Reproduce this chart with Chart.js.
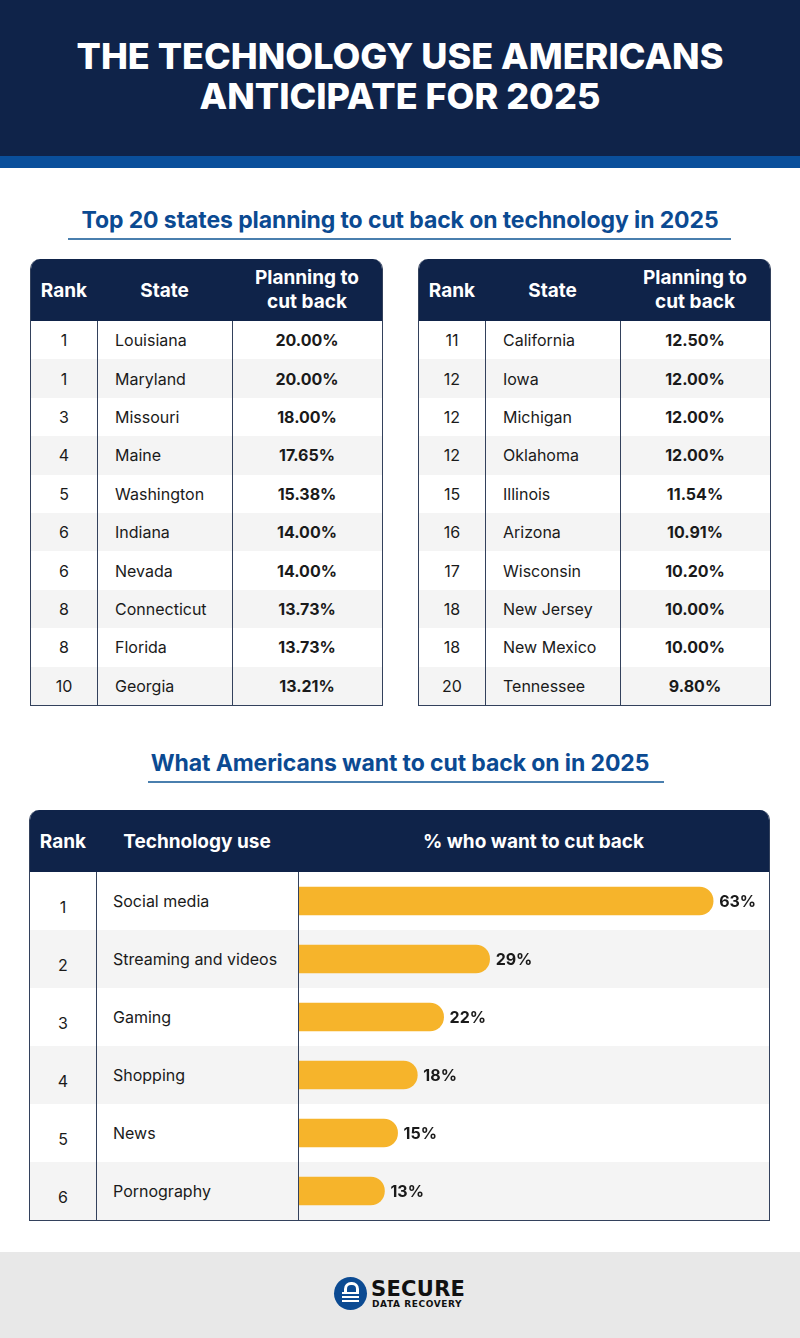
<!DOCTYPE html>
<html>
<head>
<meta charset="utf-8">
<script src="https://cdn.jsdelivr.net/npm/chart.js@4"></script>
<style>
  html, body { margin: 0; padding: 0; }
  body { width: 800px; height: 1338px; position: relative; background: #fff; font-family: Inter, "Open Sans", sans-serif; color: #1a1a1a; overflow: hidden; }
  .hdr { position: absolute; left: 0; top: 0; width: 800px; height: 156px; background: #0f2349; }
  .stripe { position: absolute; left: 0; top: 156px; width: 800px; height: 12px; background: #0a4f9b; }
  .title { position: absolute; left: 0; top: 36px; width: 800px; text-align: center; color: #fff; font-weight: 800; font-size: 36px; line-height: 40px; letter-spacing: 0; }
  .sub { position: absolute; left: 0; width: 800px; text-align: center; color: #0b4a92; font-weight: 700; font-size: 23px; letter-spacing: -0.1px; }
  .uline { position: absolute; height: 2px; background: #4a7fae; }
  .tbl { position: absolute; border: 1px solid #33415c; border-top: none; border-radius: 10px 10px 0 0; overflow: hidden; }
  .thead { position: absolute; left: 0; top: 0; background: #0f2349; color: #fff; font-weight: 700; font-size: 19px; }
  .cell { position: absolute; display: flex; align-items: center; box-sizing: border-box; }
  .row { position: absolute; left: 0; }
  .vline { position: absolute; width: 1px; background: #33415c; }
  .footer { position: absolute; left: 0; top: 1252px; width: 800px; height: 86px; background: #e8e8e8; }
</style>
</head>
<body>
<div class="hdr"></div>
<div class="stripe"></div>
<div class="title">THE TECHNOLOGY USE AMERICANS<br>ANTICIPATE FOR 2025</div>

<div class="sub" style="top:206px">Top 20 states planning to cut back on technology in 2025</div>
<div class="uline" style="left:68px; top:238px; width:663px"></div>

<div id="t1" class="tbl" style="left:30px; top:259px; width:351px; height:446px"></div>
<div id="t2" class="tbl" style="left:418px; top:259px; width:351px; height:446px"></div>

<div class="sub" style="top:749px">What Americans want to cut back on in 2025</div>
<div class="uline" style="left:148px; top:781px; width:516px"></div>

<div id="t3" class="tbl" style="left:29px; top:810px; width:739px; height:410px"></div>

<div class="footer"></div>
<div style="position:absolute; left:334px; top:1277px; width:33px; height:33px; border-radius:50%; background:#0b4a92;">
  <div style="position:absolute; left:10px; top:5px; width:9px; height:9px; border:3px solid #fff; border-bottom:none; border-radius:7px 7px 0 0;"></div>
  <div style="position:absolute; left:8px; top:15px; width:17px; height:2px; background:#fff;"></div>
  <div style="position:absolute; left:8px; top:19px; width:17px; height:2px; background:#fff;"></div>
  <div style="position:absolute; left:8px; top:23px; width:17px; height:2px; background:#fff;"></div>
</div>
<div style="position:absolute; left:371px; top:1279px; font-family:'DejaVu Sans'; font-weight:900; font-size:21px; line-height:20px; color:#111; letter-spacing:0.3px;">SECURE</div>
<div style="position:absolute; left:372px; top:1299px; font-family:'DejaVu Sans'; font-weight:700; font-size:9px; line-height:10px; color:#111; letter-spacing:0.6px;">DATA RECOVERY</div>

<script>
// Top 20 states
const ranksA = ["1", "1", "3", "4", "5", "6", "6", "8", "8", "10"];
const statesA = ["Louisiana", "Maryland", "Missouri", "Maine", "Washington", "Indiana", "Nevada", "Connecticut", "Florida", "Georgia"];
const valuesA = ["20.00%", "20.00%", "18.00%", "17.65%", "15.38%", "14.00%", "14.00%", "13.73%", "13.73%", "13.21%"];

const ranksB = ["11", "12", "12", "12", "15", "16", "17", "18", "18", "20"];
const statesB = ["California", "Iowa", "Michigan", "Oklahoma", "Illinois", "Arizona", "Wisconsin", "New Jersey", "New Mexico", "Tennessee"];
const valuesB = ["12.50%", "12.00%", "12.00%", "12.00%", "11.54%", "10.91%", "10.20%", "10.00%", "10.00%", "9.80%"];

// Technology use
const techRanks = ["1", "2", "3", "4", "5", "6"];
const techUses = ["Social media", "Streaming and videos", "Gaming", "Shopping", "News", "Pornography"];
const techPct = [63, 29, 22, 18, 15, 13];

function cell(parent, x, y, w, h, text, opts) {
  const d = document.createElement("div");
  d.className = "cell";
  d.style.left = x + "px"; d.style.top = y + "px";
  d.style.width = w + "px"; d.style.height = h + "px";
  d.style.justifyContent = opts.align || "center";
  if (opts.pad) d.style.paddingLeft = opts.pad + "px";
  if (opts.bold) d.style.fontWeight = "700";
  d.style.fontSize = (opts.size || 16) + "px";
  if (opts.lh) { d.style.lineHeight = opts.lh + "px"; d.style.textAlign = "center"; }
  d.innerHTML = text;
  parent.appendChild(d);
}

function buildStateTable(id, ranks, states, vals) {
  const t = document.getElementById(id);
  const W = 351, headH = 62, rowH = 38.4;
  const c1 = 66, c2 = 135;
  const head = document.createElement("div");
  head.className = "thead";
  head.style.width = W + "px"; head.style.height = headH + "px";
  t.appendChild(head);
  cell(head, 0, 0, c1, headH, "Rank", { bold: true, size: 19 });
  cell(head, c1, 0, c2, headH, "State", { bold: true, size: 19 });
  cell(head, c1 + c2, 0, W - c1 - c2, headH, "Planning to<br>cut back", { bold: true, size: 19, lh: 24 });
  ranks.forEach((r, i) => {
    const y = headH + i * rowH;
    const row = document.createElement("div");
    row.className = "row";
    row.style.top = y + "px"; row.style.width = W + "px"; row.style.height = rowH + "px";
    row.style.background = i % 2 ? "#f4f4f4" : "#fff";
    t.appendChild(row);
    cell(t, 0, y, c1, rowH, r, {});
    cell(t, c1, y, c2, rowH, states[i], { align: "flex-start", pad: 18 });
    cell(t, c1 + c2, y, W - c1 - c2, rowH, vals[i], { bold: true });
  });
  [c1, c1 + c2].forEach(x => {
    const v = document.createElement("div");
    v.className = "vline";
    v.style.left = x + "px"; v.style.top = headH + "px"; v.style.height = (446 - headH) + "px";
    t.appendChild(v);
  });
}

buildStateTable("t1", ranksA, statesA, valuesA);
buildStateTable("t2", ranksB, statesB, valuesB);

// Bar table shell
(function () {
  const t = document.getElementById("t3");
  const W = 739, headH = 62, rowH = 58, c1 = 66, c2 = 202;
  const head = document.createElement("div");
  head.className = "thead";
  head.style.width = W + "px"; head.style.height = headH + "px";
  t.appendChild(head);
  cell(head, 0, 0, c1, headH, "Rank", { bold: true, size: 19 });
  cell(head, c1, 0, c2, headH, "Technology use", { bold: true, size: 19 });
  cell(head, c1 + c2, 0, W - c1 - c2, headH, "% who want to cut back", { bold: true, size: 19 });
  techRanks.forEach((r, i) => {
    const y = headH + i * rowH;
    const row = document.createElement("div");
    row.className = "row";
    row.style.top = y + "px"; row.style.width = W + "px"; row.style.height = rowH + "px";
    row.style.background = i % 2 ? "#f4f4f4" : "#fff";
    t.appendChild(row);
    cell(t, 0, y + 6, c1, rowH, r, {});
    cell(t, c1, y, c2, rowH, techUses[i], { align: "flex-start", pad: 17 });
  });
  [c1, c1 + c2].forEach(x => {
    const v = document.createElement("div");
    v.className = "vline";
    v.style.left = x + "px"; v.style.top = headH + "px"; v.style.height = (410 - headH) + "px";
    t.appendChild(v);
  });
  const wrap = document.createElement("div");
  wrap.style.position = "absolute";
  wrap.style.left = (c1 + c2 + 1) + "px"; wrap.style.top = headH + "px";
  wrap.style.width = (W - c1 - c2 - 1) + "px"; wrap.style.height = (rowH * 6) + "px";
  wrap.innerHTML = '<canvas id="bars"></canvas>';
  t.appendChild(wrap);
})();

// Value labels after each bar
const endLabels = {
  id: "endLabels",
  afterDatasetsDraw(chart) {
    const ctx = chart.ctx;
    const meta = chart.getDatasetMeta(0);
    ctx.save();
    ctx.font = "700 16px Inter, sans-serif";
    ctx.fillStyle = "#1a1a1a";
    ctx.textBaseline = "middle";
    meta.data.forEach((bar, i) => {
      ctx.fillText(techPct[i] + "%", bar.x + 6, bar.y + 1);
    });
    ctx.restore();
  }
};

new Chart(document.getElementById("bars"), {
  type: "bar",
  data: {
    labels: techUses,
    datasets: [{
      data: techPct,
      backgroundColor: "#f6b42b",
      barThickness: 28,
      borderRadius: 14,
      borderSkipped: "start"
    }]
  },
  options: {
    indexAxis: "y",
    responsive: true,
    maintainAspectRatio: false,
    animation: false,
    layout: { padding: 0 },
    plugins: { legend: { display: false }, tooltip: { enabled: false } },
    scales: {
      x: { display: false, min: 0, max: 71.5 },
      y: { display: false }
    }
  },
  plugins: [endLabels]
});
</script>
</body>
</html>
